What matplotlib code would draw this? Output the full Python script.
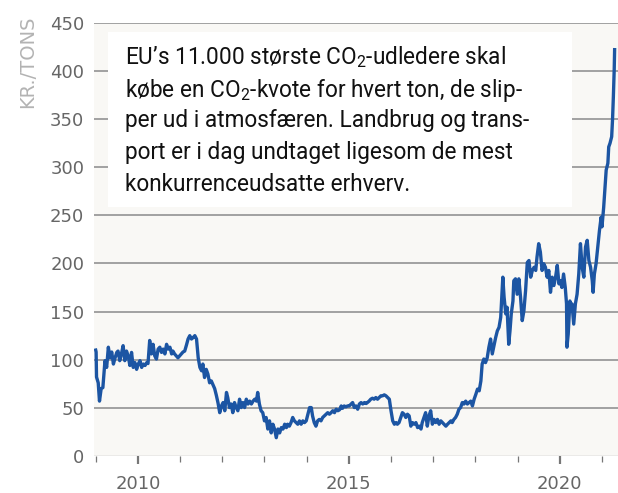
#!/usr/bin/env python3
"""CO2-kvotepris 2009-2021 (kr./ton) med tekstboks"""

import matplotlib

matplotlib.use("Agg")

import matplotlib.pyplot as plt
from matplotlib.patches import Rectangle

# årstal (decimal) og pris i kr./ton
years = [
    2009.00, 2009.01, 2009.02, 2009.06, 2009.09, 2009.13, 2009.17, 2009.22, 2009.26, 2009.30,
    2009.34, 2009.38, 2009.42, 2009.46, 2009.50, 2009.53, 2009.57, 2009.61, 2009.65, 2009.69,
    2009.73, 2009.77, 2009.81, 2009.85, 2009.89, 2009.93, 2009.97, 2010.01, 2010.05, 2010.09,
    2010.13, 2010.17, 2010.21, 2010.24, 2010.28, 2010.32, 2010.36, 2010.40, 2010.44, 2010.48,
    2010.52, 2010.56, 2010.60, 2010.64, 2010.68, 2010.72, 2010.76, 2010.80, 2010.83, 2010.87,
    2010.91, 2010.95, 2010.99, 2011.03, 2011.07, 2011.11, 2011.15, 2011.19, 2011.23, 2011.27,
    2011.31, 2011.35, 2011.39, 2011.43, 2011.47, 2011.51, 2011.54, 2011.58, 2011.62, 2011.66,
    2011.70, 2011.74, 2011.78, 2011.82, 2011.86, 2011.90, 2011.94, 2011.98, 2012.02, 2012.06,
    2012.10, 2012.13, 2012.17, 2012.21, 2012.25, 2012.29, 2012.33, 2012.37, 2012.41, 2012.45,
    2012.49, 2012.53, 2012.57, 2012.61, 2012.65, 2012.69, 2012.73, 2012.77, 2012.81, 2012.84,
    2012.88, 2012.92, 2012.96, 2013.00, 2013.04, 2013.08, 2013.12, 2013.16, 2013.20, 2013.24,
    2013.28, 2013.32, 2013.36, 2013.40, 2013.44, 2013.48, 2013.52, 2013.55, 2013.59, 2013.63,
    2013.67, 2013.71, 2013.75, 2013.79, 2013.83, 2013.87, 2013.91, 2013.95, 2013.99, 2014.03,
    2014.07, 2014.11, 2014.14, 2014.18, 2014.22, 2014.26, 2014.30, 2014.34, 2014.38, 2014.42,
    2014.46, 2014.50, 2014.54, 2014.58, 2014.62, 2014.66, 2014.70, 2014.74, 2014.78, 2014.82,
    2014.85, 2014.89, 2014.93, 2014.97, 2015.01, 2015.09, 2015.13, 2015.17, 2015.21, 2015.25,
    2015.29, 2015.33, 2015.37, 2015.41, 2015.44, 2015.48, 2015.52, 2015.56, 2015.60, 2015.64,
    2015.68, 2015.72, 2015.76, 2015.80, 2015.84, 2015.88, 2015.92, 2015.96, 2016.00, 2016.04,
    2016.08, 2016.12, 2016.15, 2016.19, 2016.23, 2016.27, 2016.31, 2016.35, 2016.39, 2016.43,
    2016.47, 2016.51, 2016.55, 2016.59, 2016.63, 2016.67, 2016.71, 2016.74, 2016.78, 2016.82,
    2016.86, 2016.90, 2016.94, 2016.98, 2017.02, 2017.06, 2017.10, 2017.14, 2017.18, 2017.22,
    2017.26, 2017.30, 2017.34, 2017.38, 2017.42, 2017.45, 2017.49, 2017.53, 2017.57, 2017.61,
    2017.65, 2017.69, 2017.73, 2017.77, 2017.81, 2017.85, 2017.89, 2017.93, 2017.97, 2018.01,
    2018.05, 2018.09, 2018.13, 2018.16, 2018.20, 2018.24, 2018.28, 2018.32, 2018.36, 2018.40,
    2018.44, 2018.48, 2018.52, 2018.56, 2018.60, 2018.62, 2018.65, 2018.68, 2018.72, 2018.75,
    2018.79, 2018.82, 2018.85, 2018.89, 2018.91, 2018.95, 2018.99, 2019.03, 2019.07, 2019.11,
    2019.15, 2019.19, 2019.23, 2019.27, 2019.31, 2019.35, 2019.39, 2019.43, 2019.46, 2019.50,
    2019.54, 2019.58, 2019.62, 2019.66, 2019.70, 2019.74, 2019.78, 2019.82, 2019.86, 2019.90,
    2019.94, 2019.98, 2020.01, 2020.05, 2020.09, 2020.13, 2020.16, 2020.17, 2020.20, 2020.24,
    2020.27, 2020.29, 2020.33, 2020.37, 2020.41, 2020.45, 2020.49, 2020.53, 2020.57, 2020.61,
    2020.65, 2020.69, 2020.73, 2020.77, 2020.79, 2020.82, 2020.86, 2020.90, 2020.94, 2020.98,
    2021.00, 2021.04, 2021.08, 2021.10, 2021.14, 2021.16, 2021.19, 2021.23, 2021.25, 2021.27,
    2021.29, 2021.30,
]
prices = [
    110, 108, 82, 76, 57, 70, 71, 99, 92, 113,
    102, 108, 95.5, 102, 107.6, 109, 99, 106, 114.6, 99,
    109, 104, 94, 107.6, 92, 97, 90, 95.5, 99, 92,
    95.5, 94, 97, 96, 120, 106, 116, 104, 100.7, 111,
    113, 107.6, 111, 106, 116, 111, 113, 106, 109, 106,
    104, 102, 104, 106, 108, 109, 115, 121.5, 125, 121.5,
    123, 125, 121.5, 102, 92, 88.5, 95.5, 81.5, 90, 85,
    76, 78, 74, 70, 63, 55, 45, 52, 55.5, 47,
    66, 60.7, 50.3, 54, 45, 55.5, 50.3, 47, 59, 50.3,
    55.5, 50.3, 59, 54, 57, 54, 57, 59, 57, 66,
    54, 47, 45, 36.5, 40, 28, 36.5, 24, 33, 28,
    19, 28, 24, 29.5, 28, 33, 29.5, 33, 31, 34.7,
    40, 36.5, 34.7, 33, 36.5, 33, 36.5, 34.7, 36.5, 43.4,
    50.3, 50.3, 41.7, 34.7, 31, 36.5, 38, 36.5, 40, 41.7,
    43.4, 45, 43.4, 45, 47, 45, 48.6, 47, 48, 52,
    49.5, 52, 51, 52, 52, 55.5, 50.3, 52, 48.6, 54,
    55.5, 54, 55.5, 54.5, 55.5, 57, 59, 60, 59, 60.7,
    59, 60.7, 62.5, 62.5, 63.5, 62.5, 60.7, 59, 47, 36.5,
    33, 34.7, 33, 34.7, 40, 45, 43.4, 40, 43.4, 41.7,
    31, 34.7, 33, 34.7, 29.5, 31, 28, 34.7, 40, 45,
    31, 41.7, 47, 33, 38, 34.7, 38, 33, 36.5, 34.7,
    33, 31, 33, 34.7, 36.5, 34.7, 38, 40, 43.4, 48.6,
    50.3, 55.5, 54, 57, 54, 55.5, 57, 52, 59, 64,
    69.5, 67.7, 78, 95.5, 100.7, 97, 102, 113, 121.5, 106,
    114.6, 123, 130, 133.6, 144, 161, 185.7, 165, 147.6, 154.5,
    116, 130, 147.6, 161, 182, 184, 168, 184, 165, 140.6,
    151, 172, 201, 203, 185.7, 192.7, 196, 192.7, 206.5, 220.5,
    211.8, 192.7, 199.7, 196, 185.7, 192.7, 170, 185.7, 177, 185.7,
    198, 178.8, 182, 175, 189, 175, 158, 113, 126.7, 161,
    151, 158, 137, 158, 168, 189, 220.5, 196, 185.7, 217,
    224, 203, 196, 182, 170, 189, 199.7, 217, 234, 248,
    238, 258, 283, 297, 304, 321, 324.7, 331.6, 349, 373,
    401, 422,
]

major_years = [2010, 2015, 2020]
major_labels = ["2010", "2015", "2020"]
minor_years = [2009, 2011, 2012, 2013, 2014, 2016, 2017, 2018, 2019, 2021]
y_ticks = [0, 50, 100, 150, 200, 250, 300, 350, 400, 450]

y_label = "KR./TONS"
box_lines = [
    "EU’s 11.000 største CO$_2$-udledere skal",
    "købe en CO$_2$-kvote for hvert ton, de slip-",
    "per ud i atmosfæren. Landbrug og trans-",
    "port er i dag undtaget ligesom de mest",
    "konkurrenceudsatte erhverv.",
]

LINE_COLOR = "#1c55a3"
BG_COLOR = "#f9f8f5"
GRID_COLOR = "#8a8a8a"
TICK_COLOR = "#666666"

W, H = 618, 493


def main():
    plt.rcParams["font.family"] = ["DejaVu Sans"]
    plt.rcParams["mathtext.fontset"] = "custom"
    plt.rcParams["mathtext.rm"] = "Roboto"
    plt.rcParams["mathtext.it"] = "Roboto"
    plt.rcParams["mathtext.bf"] = "Roboto"

    fig = plt.figure(figsize=(W / 100, H / 100), dpi=100)
    ax = fig.add_axes([94 / W, 1 - 456 / H, (W - 94) / W, (456 - 22.7) / H])
    ax.set_facecolor(BG_COLOR)

    ax.plot(years, prices, color=LINE_COLOR, lw=2.4, zorder=4, solid_joinstyle="round")

    ax.set_xlim(2008.96, 2021.38)
    ax.set_ylim(0, 450)

    # gitterlinjer
    for v in y_ticks[1:]:
        ax.axhline(v, color=GRID_COLOR, lw=1.1, zorder=1)
    ax.axhline(0, color="#b5b5b5", lw=1.0, zorder=1)

    ax.set_yticks(y_ticks)
    ax.tick_params(axis="y", length=0, pad=7, labelsize=13, labelcolor=TICK_COLOR)

    ax.set_xticks(major_years)
    ax.set_xticklabels(major_labels)
    ax.set_xticks(minor_years, minor=True)
    ax.tick_params(axis="x", which="major", length=6, width=1.6, color="#777777",
                   pad=7.5, labelsize=13, labelcolor=TICK_COLOR)
    ax.tick_params(axis="x", which="minor", length=4, width=0.9, color="#777777")

    for s in ax.spines.values():
        s.set_visible(False)

    # hvid tekstboks
    box = Rectangle((108, H - 206.7), 571.7 - 108, 206.7 - 31.7,
                    transform=None, facecolor="white", edgecolor="none", zorder=3)
    ax.add_artist(box)

    baselines = [64, 96.5, 127.5, 158.8, 190.7]
    for line, yb in zip(box_lines, baselines):
        fig.text(125 / W, 1 - yb / H, line, family="Roboto", fontsize=16.3,
                 color="#111111", ha="left", va="baseline", zorder=5)

    fig.text(28 / W, 1 - 15 / H, y_label, rotation=90, ha="center", va="top",
             fontsize=14, color="#b3b3b3")

    fig.savefig("out.png", dpi=100)
    plt.close(fig)


if __name__ == "__main__":
    main()
